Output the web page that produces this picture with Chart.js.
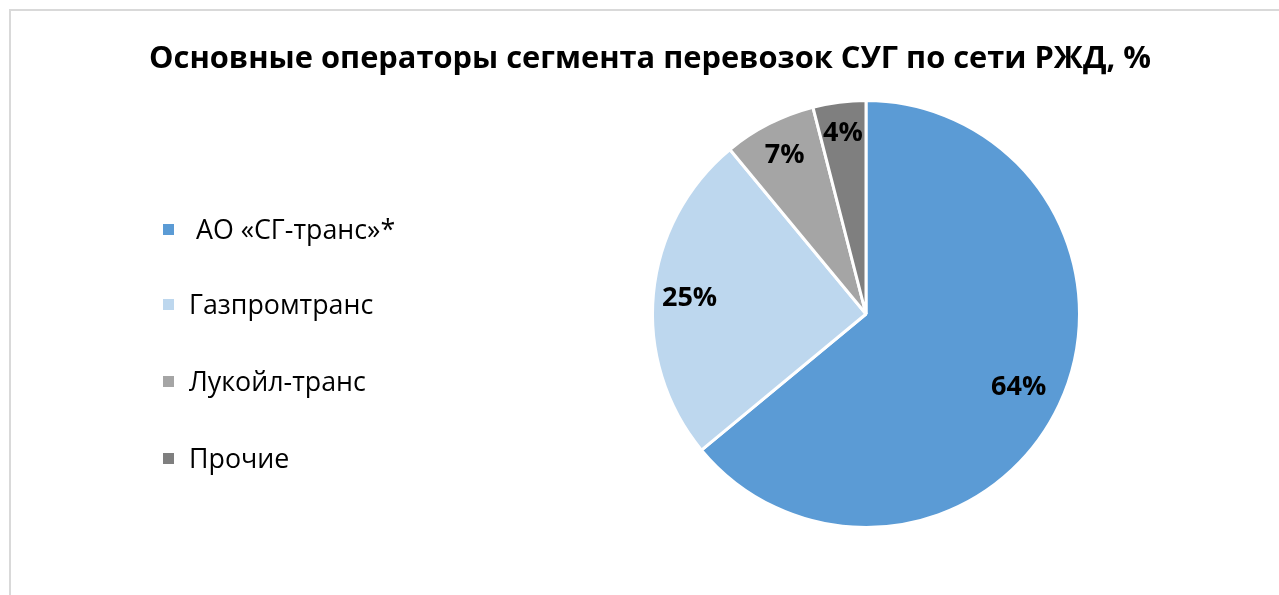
<!DOCTYPE html>
<html>
<head>
<meta charset="utf-8">
<script src="https://cdn.jsdelivr.net/npm/chart.js@4/dist/chart.umd.min.js"></script>
<style>
  html, body { margin: 0; padding: 0; background: #fff; }
  body { width: 1279px; height: 595px; overflow: hidden; position: relative; font-family: "Open Sans", sans-serif; }
  #frame { position: absolute; left: 9px; top: 9px; width: 1300px; height: 620px; border: 2px solid #d9d9d9; box-sizing: border-box; }
  #title { position: absolute; left: 0; width: 1300px; top: 34px; line-height: 44px; text-align: center; font-weight: 700; font-size: 30.8px; color: #000; white-space: nowrap; }
  #legend { position: absolute; left: 163px; top: 0; }
  .item { position: absolute; white-space: nowrap; font-size: 26.8px; line-height: 36px; height: 36px; color: #000; }
  .item span.box { position: absolute; left: 0; top: 13px; width: 11px; height: 11px; }
  .item span.txt { position: absolute; left: 26px; top: 0; white-space: pre; }
  #c { position: absolute; left: 0; top: 0; }
</style>
</head>
<body>
<div id="frame"></div>
<canvas id="c" width="1279" height="595"></canvas>
<div id="title">Основные операторы сегмента перевозок СУГ по сети РЖД, %</div>
<div id="legend"></div>
<script>
const operators = [" АО «СГ-транс»*", "Газпромтранс", "Лукойл-транс", "Прочие"];
const shares = [64, 25, 7, 4];
const sliceColors = ["#5B9BD5", "#BDD7EE", "#A5A5A5", "#7F7F7F"];

// legend built from the same arrays
const legend = document.getElementById("legend");
const legendTops = [211, 286, 363, 440];
operators.forEach((name, i) => {
  const item = document.createElement("div");
  item.className = "item";
  item.style.top = legendTops[i] + "px";
  item.innerHTML = '<span class="box" style="background:' + sliceColors[i] + '"></span><span class="txt"></span>';
  item.querySelector(".txt").textContent = name;
  legend.appendChild(item);
});

// percent labels inside the slices
const sliceLabels = {
  id: "sliceLabels",
  afterDatasetsDraw(chart) {
    const ctx = chart.ctx;
    const meta = chart.getDatasetMeta(0);
    ctx.save();
    ctx.font = "700 27px 'Open Sans'";
    ctx.fillStyle = "#000";
    ctx.textAlign = "center";
    ctx.textBaseline = "middle";
    const factors = [0.79, 0.83, 0.84, 0.86];
    meta.data.forEach((arc, i) => {
      const p = arc.getProps(["x", "y", "startAngle", "endAngle", "outerRadius"], true);
      const mid = (p.startAngle + p.endAngle) / 2;
      const r = p.outerRadius * factors[i];
      ctx.fillText(shares[i] + "%", p.x + Math.cos(mid) * r, p.y + Math.sin(mid) * r + 1);
    });
    ctx.restore();
  }
};

new Chart(document.getElementById("c"), {
  type: "pie",
  data: {
    labels: operators,
    datasets: [{
      data: shares,
      backgroundColor: sliceColors,
      borderColor: "#fff",
      borderWidth: 3,
    }],
  },
  options: {
    responsive: false,
    animation: false,
    layout: { padding: { left: 651, right: 198, top: 99, bottom: 66 } },
    plugins: {
      legend: { display: false },
      tooltip: { enabled: false },
      title: { display: false },
    },
  },
  plugins: [sliceLabels],
});
</script>
</body>
</html>
